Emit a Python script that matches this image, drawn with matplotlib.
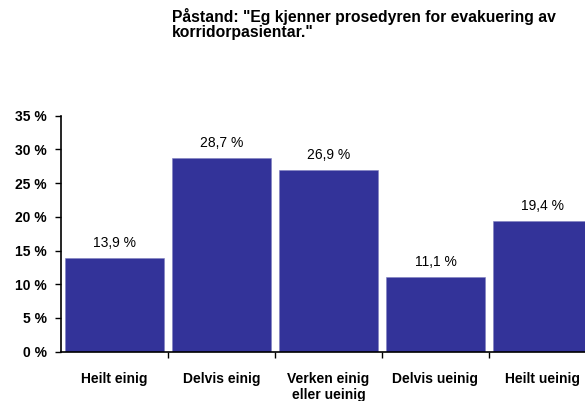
import matplotlib.pyplot as plt
import numpy as np

plt.rcParams['font.family'] = ['Liberation Sans', 'DejaVu Sans']

categories = ['Heilt einig', 'Delvis einig', 'Verken einig\neller ueinig', 'Delvis ueinig', 'Heilt ueinig']
values = [13.9, 28.7, 26.9, 11.1, 19.4]
yticks = [0, 5, 10, 15, 20, 25, 30, 35]
title = 'Påstand: "Eg kjenner prosedyren for evakuering av\nkorridorpasientar."'

fig = plt.figure(figsize=(5.85, 4.01), dpi=100)
ax = fig.add_axes([61/585, 1-351.6/401, 535/585, (351.6-115.7)/401])

x = np.arange(len(categories))
bars = ax.bar(x, values, width=0.925, color='#333399', edgecolor='#8080c0', linewidth=0.4)

# verdiar over stolpane, med komma som desimalteikn
for xi, v in zip(x, values):
    ax.text(xi, v + 1.2, ('%.1f %%' % v).replace('.', ','), ha='center', va='bottom', fontsize=10)

ax.set_xlim(-0.5, 4.5)
ax.set_ylim(0, 35)
ax.set_yticks(yticks)
ax.set_yticklabels(['%d %%' % t for t in yticks])
ax.set_xticks(x)
ax.set_xticklabels(categories, fontsize=10, fontweight='bold', linespacing=1.15)
ax.set_xticks(x[:-1] + 0.5, minor=True)
ax.tick_params(axis='x', which='major', length=0, pad=15)
ax.tick_params(axis='x', which='minor', length=4, direction='out', width=1)
ax.tick_params(axis='y', length=4, width=1, pad=6, labelsize=10)
for lbl in ax.get_yticklabels():
    lbl.set_fontweight('bold')

ax.spines['top'].set_visible(False)
ax.spines['right'].set_visible(False)
ax.spines['left'].set_linewidth(1.2)
ax.spines['bottom'].set_linewidth(1.2)

fig.text(172/585, 1-8/401, title, ha='left', va='top', fontsize=11.3, fontweight='bold', linespacing=1.0)

fig.savefig('out.png', dpi=100)
